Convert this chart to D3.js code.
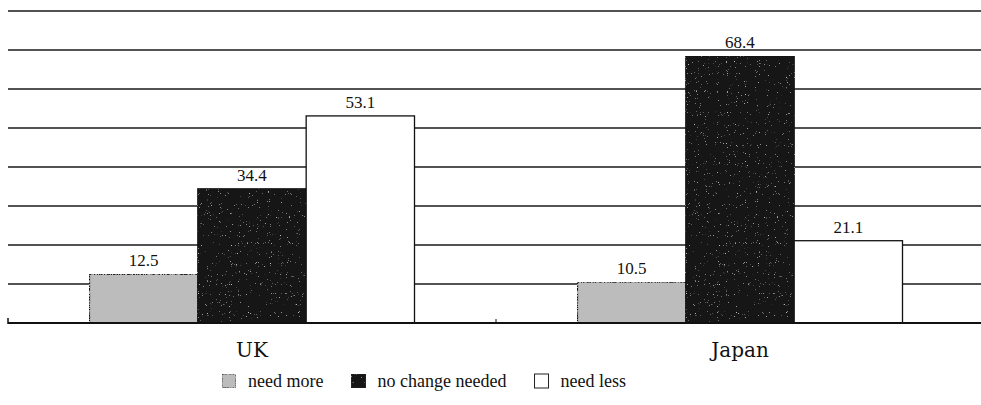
<!DOCTYPE html>
<html>
<head>
<meta charset="utf-8">
<script src="https://cdn.jsdelivr.net/npm/d3@7"></script>
<style>
  html, body { margin: 0; padding: 0; background: #fff; }
  svg { display: block; }
  text { font-family: "Liberation Serif", "Times New Roman", serif; fill: #111; }
  text.cat { font-family: "DejaVu Serif", "Liberation Serif", serif; }
</style>
</head>
<body>
<svg id="chart" width="981" height="405"></svg>
<script>
// Survey answers by country (percent)
const countries = ["UK", "Japan"];
const seriesNames = ["need more", "no change needed", "need less"];
const needMore = [12.5, 10.5];
const noChange = [34.4, 68.4];
const needLess = [53.1, 21.1];
const gridTicks = [10, 20, 30, 40, 50, 60, 70, 80];

const seriesValues = [needMore, noChange, needLess];
const fills = ["#bcbcbc", "#141414", "#ffffff"];
const grains = ["url(#grainLight)", "url(#grainDark)", null];

const svg = d3.select("#chart");
const plotLeft = 8, plotRight = 984, plotBase = 323, plotTop = 11;

const x0 = d3.scaleBand().domain(countries).range([plotLeft, plotRight])
  .paddingInner(0.334).paddingOuter(0.167);
const x1 = d3.scaleBand().domain(seriesNames).range([0, x0.bandwidth()]);
const y = d3.scaleLinear().domain([0, 80]).range([plotBase, plotTop]);

// stippled textures for the shaded bars
const defs = svg.append("defs");
function grain(id, seed, speckColor, matrixAlpha) {
  const f = defs.append("filter").attr("id", id).attr("x", 0).attr("y", 0)
    .attr("width", 1).attr("height", 1);
  f.append("feTurbulence").attr("type", "fractalNoise").attr("baseFrequency", 1.1)
    .attr("numOctaves", 2).attr("seed", seed).attr("result", "noise");
  f.append("feColorMatrix").attr("in", "noise").attr("type", "matrix")
    .attr("values", `0 0 0 0 ${speckColor}  0 0 0 0 ${speckColor}  0 0 0 0 ${speckColor}  ${matrixAlpha}`)
    .attr("result", "specks");
  f.append("feComposite").attr("in", "specks").attr("in2", "SourceGraphic")
    .attr("operator", "in").attr("result", "sp");
  f.append("feBlend").attr("in", "sp").attr("in2", "SourceGraphic").attr("mode", "normal");
}
grain("grainLight", 5, 0.5, "0 0 0 -4 2.3");
grain("grainDark", 7, 0.55, "0 0 0 6 -4.3");

// horizontal grid lines
svg.append("g")
  .selectAll("line")
  .data(gridTicks)
  .join("line")
  .attr("x1", plotLeft).attr("x2", 981)
  .attr("y1", d => y(d)).attr("y2", d => y(d))
  .attr("stroke", "#1a1a1a").attr("stroke-width", 1.3);

// bars
const groups = svg.append("g").selectAll("g")
  .data(countries)
  .join("g")
  .attr("transform", c => `translate(${x0(c)},0)`);

const cells = (c, ci) => seriesNames.map((s, si) => ({ s, si, v: seriesValues[si][ci] }));

groups.selectAll("rect")
  .data(cells)
  .join("rect")
  .attr("x", d => x1(d.s))
  .attr("y", d => y(d.v))
  .attr("width", x1.bandwidth())
  .attr("height", d => plotBase - y(d.v))
  .attr("fill", d => fills[d.si])
  .attr("filter", d => grains[d.si])
  .attr("stroke", "#111").attr("stroke-width", 1.3);

groups.selectAll("text")
  .data(cells)
  .join("text")
  .attr("x", d => x1(d.s) + x1.bandwidth() / 2)
  .attr("y", d => y(d.v) - 8)
  .attr("text-anchor", "middle")
  .attr("font-size", 17)
  .text(d => d.v.toFixed(1));

// baseline and ticks
svg.append("line").attr("x1", plotLeft).attr("x2", 981).attr("y1", plotBase).attr("y2", plotBase)
  .attr("stroke", "#111").attr("stroke-width", 2);
svg.append("line").attr("x1", plotLeft).attr("x2", plotLeft).attr("y1", plotBase - 5).attr("y2", plotBase + 1)
  .attr("stroke", "#111").attr("stroke-width", 1.5);
svg.append("line").attr("x1", x0.step() + plotLeft).attr("x2", x0.step() + plotLeft)
  .attr("y1", plotBase - 4).attr("y2", plotBase).attr("stroke", "#111").attr("stroke-width", 1);

// category labels
svg.append("g").selectAll("text")
  .data(countries)
  .join("text")
  .attr("class", "cat")
  .attr("x", c => x0(c) + x0.bandwidth() / 2)
  .attr("y", 357)
  .attr("text-anchor", "middle")
  .attr("font-size", 20)
  .text(c => c);

// legend: swatch, label, then an even gap before the next item
const legendStart = 222, legendEnd = 626, swatch = 14, labelGap = 12;
const lg = svg.append("g").selectAll("g")
  .data(seriesNames)
  .join("g");
lg.append("rect")
  .attr("width", swatch).attr("height", swatch)
  .attr("y", 374)
  .attr("fill", (d, i) => fills[i])
  .attr("filter", (d, i) => grains[i])
  .attr("stroke", "#222").attr("stroke-width", 1);
lg.append("text")
  .attr("x", swatch + labelGap).attr("y", 387)
  .attr("font-size", 18)
  .text(d => d);
const widths = lg.select("text").nodes().map(n => n.getComputedTextLength());
const used = d3.sum(widths) + seriesNames.length * (swatch + labelGap);
const itemGap = (legendEnd - legendStart - used) / (seriesNames.length - 1);
let cursor = legendStart;
lg.attr("transform", (d, i) => {
  const x = cursor;
  cursor += swatch + labelGap + widths[i] + itemGap;
  return `translate(${x},0)`;
});
</script>
</body>
</html>
